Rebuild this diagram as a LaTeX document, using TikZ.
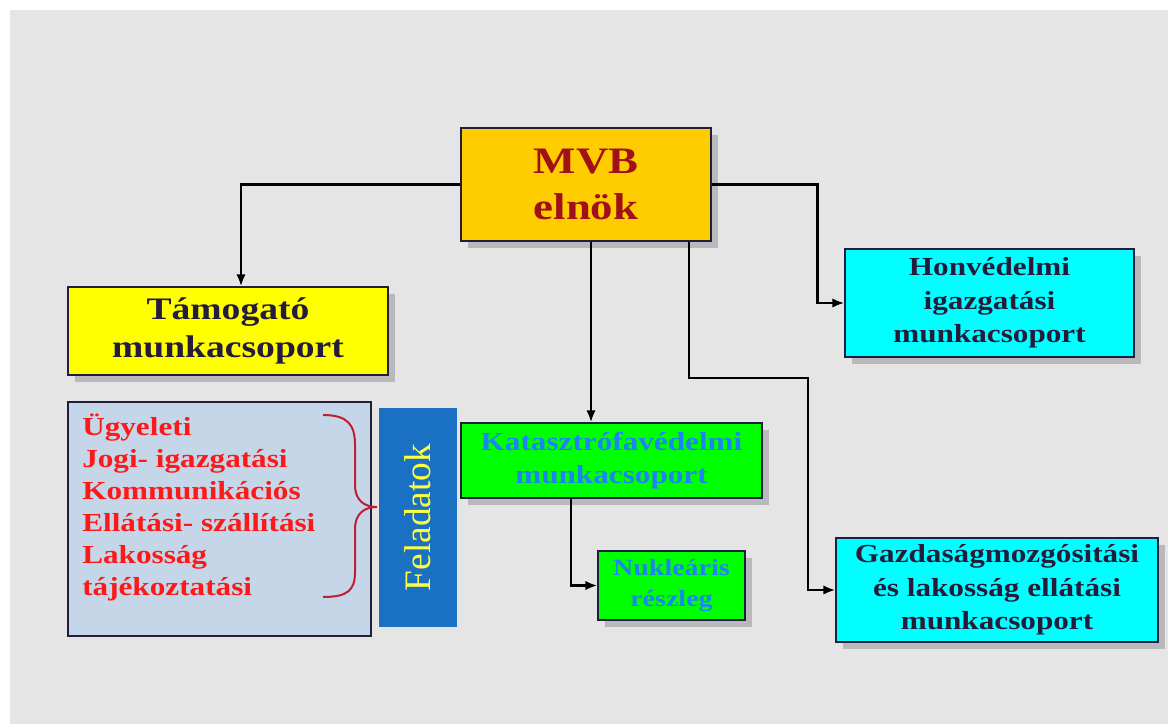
\documentclass[tikz,border=0pt]{standalone}
\usepackage{fontspec}
\setmainfont{Liberation Serif}[FakeStretch=1.2]
\newfontfamily\feladatfont{Liberation Serif}
\usepackage{tikz}
\usetikzlibrary{
  arrows.meta,
  positioning,
  calc,
  shadows
}
\definecolor{pagecolor}{RGB}{229, 229, 229}
\definecolor{framecolor}{RGB}{32, 30, 60}
\definecolor{elnokcolor}{RGB}{255, 204, 0}
\definecolor{elnoktext}{RGB}{160, 16, 24}
\definecolor{tamogatocolor}{RGB}{255, 255, 0}
\definecolor{munkatext}{RGB}{36, 28, 58}
\definecolor{honvedcolor}{RGB}{0, 255, 255}
\definecolor{katcolor}{RGB}{0, 255, 0}
\definecolor{kattext}{RGB}{30, 132, 245}
\definecolor{feladatcolor}{RGB}{197, 214, 232}
\definecolor{feladattext}{RGB}{255, 24, 24}
\definecolor{barcolor}{RGB}{26, 112, 194}
\definecolor{bartext}{RGB}{255, 255, 64}
\definecolor{bracecolor}{RGB}{190, 30, 50}
\definecolor{shadowcolor}{RGB}{140, 140, 150}
\tikzset{
blocktext/.style={
  align=center,
  font=\bfseries\fontsize{19.5}{25}\selectfont,
  text=munkatext
},
block/.style={
  draw=framecolor,
  line width=0.9pt,
  inner sep=0pt,
  drop shadow={shadow xshift=5pt, shadow yshift=-5pt, fill=shadowcolor},
  blocktext
},
elnokblock/.style={
  block,
  fill=elnokcolor,
  text=elnoktext,
  font=\bfseries\fontsize{28}{34}\selectfont
},
tamogatoblock/.style={
  block,
  fill=tamogatocolor,
  font=\bfseries\fontsize{23.5}{28}\selectfont
},
honvedblock/.style={
  block,
  fill=honvedcolor
},
katblock/.style={
  block,
  fill=katcolor,
  text=kattext
},
arrow/.style={
  -{Latex[length=9pt,width=7pt]},
  line width=2.2pt,
  draw=black
}
}

\begin{document}
\begin{tikzpicture}[x=0.75pt, y=-0.75pt]

% ============================================================================
% HATTER
% ============================================================================
\useasboundingbox (0, 0) rectangle (1168, 724);
\fill[white] (0, 0) rectangle (1168, 724);
\fill[pagecolor] (10, 10) rectangle (1168, 724);

% ============================================================================
% MVB ELNOK
% ============================================================================
\node[elnokblock, minimum width=187.5pt, minimum height=84.75pt] (elnok) at (586, 184.5) {MVB\\elnök};

% ============================================================================
% MUNKACSOPORTOK
% ============================================================================
\node[tamogatoblock, minimum width=240pt, minimum height=66pt] (tamogato) at (228, 331) {Támogató\\munkacsoport};
\node[honvedblock, minimum width=216.75pt, minimum height=81pt] (honved) at (989.5, 303) {Honvédelmi\\igazgatási\\munkacsoport};
\node[katblock, minimum width=225.75pt, minimum height=56.25pt] (katasztrofa) at (611.5, 460.5) {Katasztrófavédelmi\\munkacsoport};
\node[katblock, font=\bfseries\fontsize{17.5}{23}\selectfont, minimum width=110.25pt, minimum height=51.75pt] (nuklearis) at (671.5, 585.5) {Nukleáris\\részleg};
\node[honvedblock, minimum width=241.5pt, minimum height=78pt] (gazdasag) at (997, 590) {Gazdaságmozgósitási\\és lakosság ellátási\\munkacsoport};

% ============================================================================
% FELADATOK
% ============================================================================
\node[draw=framecolor, line width=0.9pt, fill=feladatcolor, minimum width=227.25pt, minimum height=175.5pt] (feladatbox) at (219.5, 519) {};
\node[anchor=north west, inner sep=0pt, align=left, text=feladattext,
      font=\bfseries\fontsize{19.5}{24}\selectfont] (feladatlista) at (82, 414)
  {Ügyeleti\\Jogi- igazgatási\\Kommunikációs\\Ellátási- szállítási\\Lakosság\\tájékoztatási};
\node[fill=barcolor, minimum width=58.5pt, minimum height=164.25pt] (feladatsav) at (418, 517.5) {};
\node[rotate=90, text=bartext, font=\feladatfont\fontsize{28}{30}\selectfont] (feladatcim) at (feladatsav.center) {Feladatok};

% kapcsos zarojel
\draw[bracecolor, line width=1.5pt]
  (323, 415) .. controls (348, 415) and (355, 425) .. (355, 445)
  -- (355, 485) .. controls (355, 500) and (364, 507) .. (377, 507)
  .. controls (364, 507) and (355, 514) .. (355, 529)
  -- (355, 572) .. controls (355, 590) and (348, 597) .. (323, 597);

% ============================================================================
% KAPCSOLATOK
% ============================================================================
\draw[arrow] (elnok.west) -| (tamogato.north -| 241, 0);
\draw[arrow] (elnok.east) -- ++(106, 0) |- (honved.west);
\draw[arrow] (elnok.south -| 591, 0) -- (katasztrofa.north -| 591, 0);
\draw[arrow] (elnok.south -| 689, 0) |- (808, 378) |- (gazdasag.west);
\draw[arrow] (katasztrofa.south -| 571, 0) |- (nuklearis.west);

\end{tikzpicture}
\end{document}
